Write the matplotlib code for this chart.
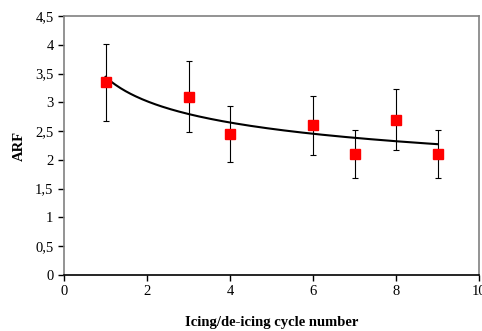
import numpy as np
import matplotlib
matplotlib.use("Agg")
import matplotlib.pyplot as plt
from matplotlib.ticker import FuncFormatter

cycles = [1, 3, 4, 6, 7, 8, 9]
arf = [3.35, 3.10, 2.45, 2.60, 2.10, 2.70, 2.10]
arf_err = [0.67, 0.62, 0.49, 0.51, 0.42, 0.53, 0.42]

plt.rcParams["font.family"] = "Liberation Serif"

fig = plt.figure(figsize=(4.82, 3.31), dpi=100)
ax = fig.add_axes([0.1328, 0.1692, 0.861, 0.7825])

# power trendline, fitted like the spreadsheet does
b, log_a = np.polyfit(np.log(cycles), np.log(arf), 1)
xs = np.linspace(min(cycles), max(cycles), 200)
ax.plot(xs, np.exp(log_a) * xs ** b, color="black", lw=1.5, zorder=2)

ax.errorbar(cycles, arf, yerr=arf_err, fmt="none", ecolor="black",
            elinewidth=0.8, capsize=2.2, capthick=0.8, zorder=3)
ax.plot(cycles, arf, "s", color="#ff0000", markersize=6.5, zorder=4)

ax.set_xlim(0, 10)
ax.set_ylim(0, 4.5)
ax.set_xticks(np.arange(0, 11, 2))
ax.set_yticks(np.arange(0, 4.51, 0.5))
ax.yaxis.set_major_formatter(FuncFormatter(lambda v, p: f"{v:g}".replace(".", ",")))
ax.tick_params(labelsize=10.5, length=4, width=1, direction="out")

for side in ["left", "top", "right"]:
    ax.spines[side].set_color("#808080")
    ax.spines[side].set_linewidth(1.2)
ax.spines["bottom"].set_color("black")
ax.spines["bottom"].set_linewidth(1.2)

ax.set_xlabel("Icing/de-icing cycle number", fontsize=10.5, fontweight="bold", labelpad=13)
ax.set_ylabel("ARF", fontsize=10.5, fontweight="bold", labelpad=7)

fig.savefig("out.png", dpi=100)
